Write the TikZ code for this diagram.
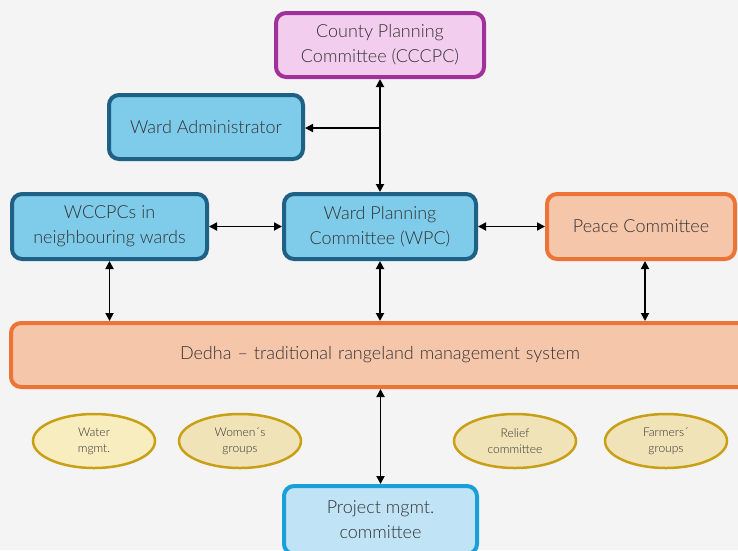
\documentclass[tikz,border=0pt]{standalone}
\usepackage{fontspec}
\setmainfont{Lato}[UprightFont=* Light]
\usetikzlibrary{arrows.meta,shapes.geometric}
\definecolor{bg}{HTML}{F4F4F4}
\definecolor{txt}{HTML}{333333}
\definecolor{purpB}{HTML}{A0309A}
\definecolor{purpF}{HTML}{F2CDEE}
\definecolor{blueB}{HTML}{1E6185}
\definecolor{blueF}{HTML}{7FCBEA}
\definecolor{oraB}{HTML}{EC7436}
\definecolor{oraF}{HTML}{F6C6AB}
\definecolor{goldB}{HTML}{C9A015}
\definecolor{goldF}{HTML}{F0E3B8}
\definecolor{goldF2}{HTML}{F8EDBE}
\definecolor{lbB}{HTML}{1AA0D8}
\definecolor{lbF}{HTML}{C0E3F5}
\tikzset{
  box/.style={rectangle, rounded corners=10pt, line width=4pt, align=center,
    text=txt, font=\fontsize{18}{25}\selectfont, inner sep=0pt},
  oval/.style={ellipse, line width=2.5pt, draw=goldB, fill=goldF, align=center,
    text=txt, font=\fontsize{12}{16}\selectfont, minimum width=122pt, minimum height=54pt, inner sep=0pt},
  conn/.style={line width=1.8pt, black, {Triangle[length=8pt,width=8pt]}-{Triangle[length=8pt,width=8pt]}},
  conn1/.style={line width=1.8pt, black, -{Triangle[length=8pt,width=8pt]}}
}
\begin{document}
\begin{tikzpicture}[x=1pt,y=-1pt]
\useasboundingbox (0,0) rectangle (738,550);
\fill[bg] (0,0) rectangle (738,550);
\begin{scope}
\clip (0,0) rectangle (738,550);
\node[box, draw=purpB, fill=purpF, minimum width=208pt, minimum height=64pt] (cccpc) at (380,45) {County Planning\\Committee (CCCPC)};
\node[box, draw=blueB, fill=blueF, minimum width=194pt, minimum height=64pt] (admin) at (206,127) {Ward Administrator};
\node[box, draw=blueB, fill=blueF, minimum width=195pt, minimum height=65pt] (wcc) at (109.5,226.5) {WCCPCs in\\neighbouring wards};
\node[box, draw=blueB, fill=blueF, minimum width=192pt, minimum height=65pt] (wpc) at (380,226.5) {Ward Planning\\Committee (WPC)};
\node[box, draw=oraB, fill=oraF, minimum width=188pt, minimum height=65pt] (peace) at (641,226.5) {Peace Committee};
\node[box, draw=oraB, fill=oraF, minimum width=750pt, minimum height=64pt, text width=730pt] (dedha) at (386,355) {\hspace*{-12pt}Dedha -- traditional rangeland management system};
\node[oval, fill=goldF2] (water) at (94,441) {Water\\mgmt.};
\node[oval] (women) at (240,441) {Women´s\\groups};
\node[oval] (relief) at (515,441) {Relief\\committee};
\node[oval] (farmers) at (666,441) {Farmers´\\groups};
\node[box, draw=lbB, fill=lbF, minimum width=193pt, minimum height=68pt] (proj) at (380.5,520) {Project mgmt.\\committee};
\coordinate (split) at (380,128);
\draw[conn] (cccpc.south) -- (wpc.north);
\draw[conn1] (split) -- (admin.east |- split);
\draw[conn] (wcc.east) -- (wpc.west);
\draw[conn] (wpc.east) -- (peace.west);
\draw[conn] (wcc.south) -- (wcc.south |- dedha.north);
\draw[conn] (wpc.south) -- (wpc.south |- dedha.north);
\draw[conn] (peace.south -| 645,0) -- (645,0 |- dedha.north);
\draw[conn] (dedha.south -| proj.north) -- (proj.north);
\end{scope}
\end{tikzpicture}
\end{document}
